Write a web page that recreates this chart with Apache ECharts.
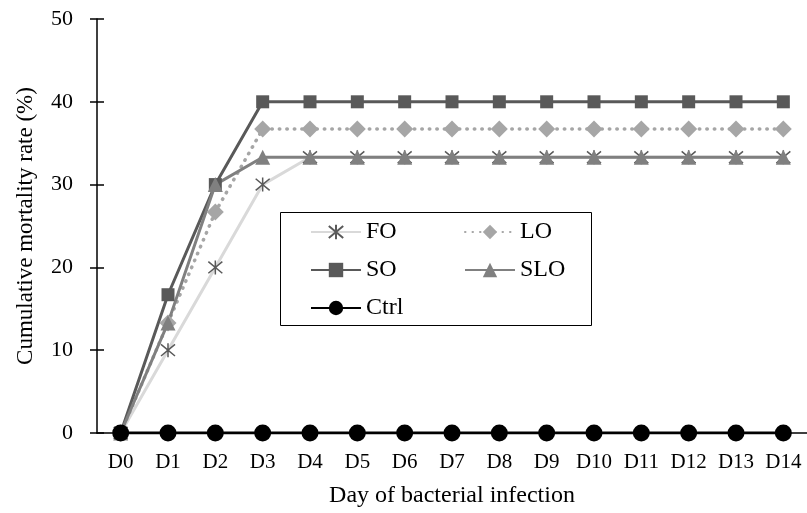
<!DOCTYPE html>
<html>
<head>
<meta charset="utf-8">
<script src="https://cdn.jsdelivr.net/npm/echarts@6/dist/echarts.min.js"></script>
<style>html,body{margin:0;padding:0;background:#fff}#c{width:807px;height:513px}</style>
</head>
<body>
<div id="c"></div>
<script>
const categories = ['D0','D1','D2','D3','D4','D5','D6','D7','D8','D9','D10','D11','D12','D13','D14'];
const FO   = [0, 10, 20, 30, 33.3, 33.3, 33.3, 33.3, 33.3, 33.3, 33.3, 33.3, 33.3, 33.3, 33.3];
const LO   = [0, 13.3, 26.7, 36.7, 36.7, 36.7, 36.7, 36.7, 36.7, 36.7, 36.7, 36.7, 36.7, 36.7, 36.7];
const SO   = [0, 16.7, 30, 40, 40, 40, 40, 40, 40, 40, 40, 40, 40, 40, 40];
const SLO  = [0, 13.3, 30, 33.3, 33.3, 33.3, 33.3, 33.3, 33.3, 33.3, 33.3, 33.3, 33.3, 33.3, 33.3];
const Ctrl = [0, 0, 0, 0, 0, 0, 0, 0, 0, 0, 0, 0, 0, 0, 0];
const yTicks = [0, 10, 20, 30, 40, 50];

const font = '"Liberation Serif", "Times New Roman", serif';
const asterisk = 'path://M0,0L10,10M10,0L0,10M5,-1L5,11';

const chart = echarts.init(document.getElementById('c'), null, {renderer: 'canvas'});
const legendText = {fontFamily: font, fontSize: 24, color: '#000', lineHeight: 24};
chart.setOption({
  animation: false,
  textStyle: {fontFamily: font},
  grid: {left: 97, top: 19, width: 716, height: 416, containLabel: false},
  graphic: [{
    type: 'rect', left: 280, top: 212, z: 10,
    shape: {width: 311, height: 113},
    style: {fill: '#fff', stroke: '#000', lineWidth: 1}
  }],
  legend: [{
    data: ['FO', 'SO', 'Ctrl'], orient: 'vertical', left: 305, top: 215, z: 20,
    itemWidth: 50, itemHeight: 18, itemGap: 14, textStyle: legendText
  }, {
    data: ['LO', 'SLO'], orient: 'vertical', left: 459, top: 215, z: 20,
    itemWidth: 50, itemHeight: 18, itemGap: 14, textStyle: legendText
  }],
  xAxis: {
    type: 'category', data: categories, boundaryGap: true,
    axisLine: {lineStyle: {color: '#000', width: 1.5}},
    axisTick: {show: false},
    axisLabel: {color: '#000', fontSize: 21, fontFamily: font, margin: 19, interval: 0},
    name: 'Day of bacterial infection', nameLocation: 'middle', nameGap: 51,
    nameTextStyle: {color: '#000', fontSize: 24, fontFamily: font}
  },
  yAxis: [{
    type: 'value', min: 0, max: 50, interval: 10,
    axisLine: {show: true, lineStyle: {color: '#000', width: 1.5}},
    axisTick: {show: true, length: 7, lineStyle: {color: '#000', width: 1.5}},
    splitLine: {show: false},
    axisLabel: {color: '#000', fontSize: 22, fontFamily: font, margin: 24,
      formatter: v => yTicks.includes(v) ? String(v) : ''},
    name: 'Cumulative mortality rate (%)', nameLocation: 'middle', nameGap: 60,
    nameTextStyle: {color: '#000', fontSize: 23, fontFamily: font}
  }, {
    type: 'value', min: 0, max: 50, interval: 10, position: 'left',
    axisLine: {show: false},
    axisTick: {show: true, inside: true, length: 7, lineStyle: {color: '#000', width: 1.5}},
    splitLine: {show: false}, axisLabel: {show: false}
  }],
  series: [{
    name: 'FO', type: 'line', data: FO, symbol: asterisk, symbolSize: 14,
    lineStyle: {color: '#d9d9d9', width: 3},
    itemStyle: {color: '#595959', borderColor: '#595959', borderWidth: 1.5}
  }, {
    name: 'LO', type: 'line', data: LO, symbol: 'diamond', symbolSize: 17,
    lineStyle: {color: '#a6a6a6', width: 3.5, type: [0.5, 7], cap: 'round'},
    itemStyle: {color: '#a6a6a6'}
  }, {
    name: 'SO', type: 'line', data: SO, symbol: 'rect', symbolSize: 13,
    lineStyle: {color: '#595959', width: 3},
    itemStyle: {color: '#595959'}
  }, {
    name: 'SLO', type: 'line', data: SLO, symbol: 'triangle', symbolSize: 15,
    lineStyle: {color: '#808080', width: 3},
    itemStyle: {color: '#808080'}
  }, {
    name: 'Ctrl', type: 'line', data: Ctrl, symbol: 'circle', symbolSize: 17,
    lineStyle: {color: '#000', width: 3},
    itemStyle: {color: '#000'}
  }]
});
</script>
</body>
</html>
